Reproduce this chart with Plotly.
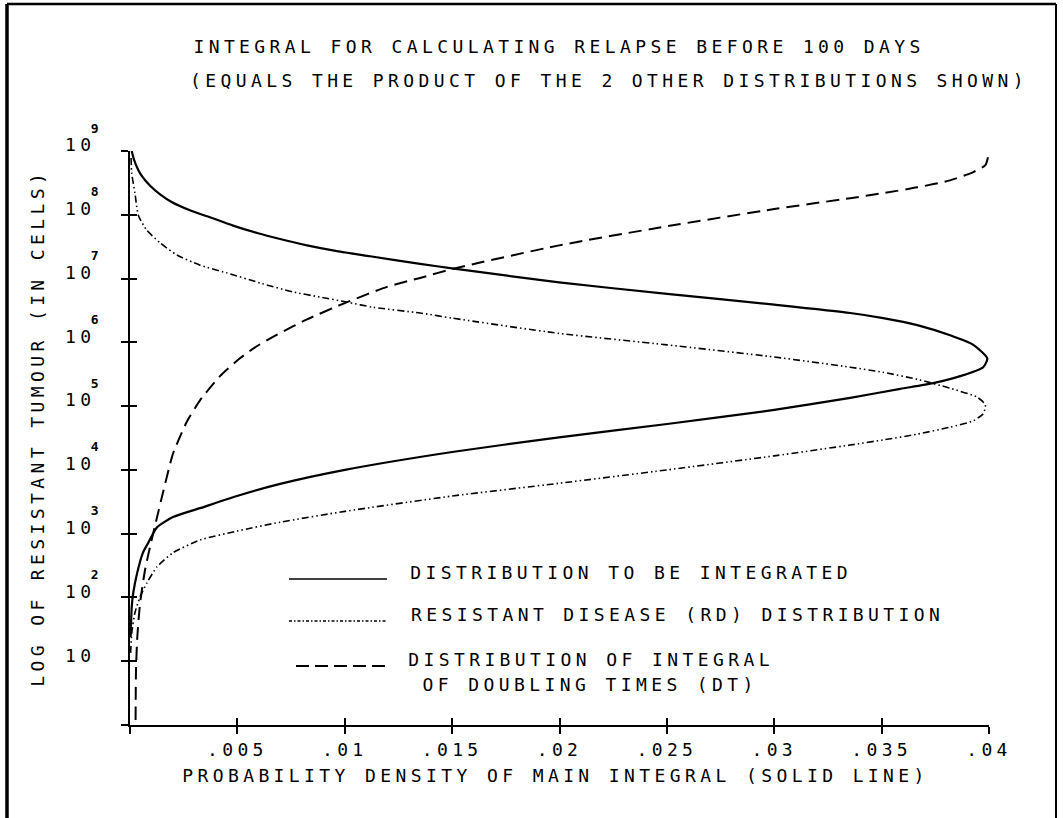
import plotly.graph_objects as go

# Distribution to be integrated (solid line): probability density vs log10 cells
dist_x = [0.00008, 0.00019, 0.00047, 0.00101, 0.00140, 0.00194, 0.00279, 0.00373, 0.00480,
          0.00596, 0.00699, 0.00824, 0.00964, 0.01118, 0.01351, 0.01500, 0.01998, 0.02501,
          0.03000, 0.03354, 0.03507, 0.03666, 0.03819, 0.03927, 0.03992, 0.03973, 0.03866,
          0.03740, 0.03587, 0.03354, 0.03000, 0.02501, 0.01998, 0.01500, 0.01001, 0.00699,
          0.00498, 0.00326, 0.00200, 0.00126, 0.00084, 0.00060, 0.00033, 0.00015, 0.00008,
          0.00003]
dist_logn = [9.00, 8.86, 8.65, 8.43, 8.32, 8.20, 8.07, 7.96, 7.83, 7.71, 7.62, 7.52, 7.43, 7.35,
             7.23, 7.16, 6.94, 6.76, 6.59, 6.46, 6.38, 6.27, 6.11, 5.96, 5.75, 5.61, 5.47, 5.36,
             5.27, 5.13, 4.94, 4.72, 4.51, 4.28, 4.00, 3.78, 3.59, 3.40, 3.26, 3.10, 2.85, 2.70,
             2.38, 2.07, 1.85, 1.38]

# Resistant disease (RD) distribution
rd_x = [0.00005, 0.00008, 0.00023, 0.00039, 0.00078, 0.00140, 0.00218, 0.00326, 0.00450,
        0.00606, 0.00759, 0.00885, 0.01011, 0.01132, 0.01351, 0.01500, 0.01998, 0.02501,
        0.03000, 0.03354, 0.03507, 0.03666, 0.03819, 0.03945, 0.03983, 0.03973, 0.03927,
        0.03819, 0.03666, 0.03507, 0.03354, 0.03000, 0.02501, 0.01998, 0.01500, 0.01001,
        0.00699, 0.00498, 0.00326, 0.00200, 0.00126, 0.00079, 0.00047, 0.00023, 0.00008,
        0.00003]
rd_logn = [8.89, 8.65, 8.34, 7.99, 7.76, 7.56, 7.37, 7.21, 7.09, 6.93, 6.79, 6.71, 6.63, 6.55,
           6.46, 6.38, 6.14, 5.96, 5.77, 5.61, 5.53, 5.42, 5.28, 5.14, 5.02, 4.88, 4.77, 4.67,
           4.56, 4.47, 4.39, 4.22, 4.00, 3.79, 3.59, 3.35, 3.18, 3.04, 2.90, 2.70, 2.48, 2.23,
           2.01, 1.76, 1.44, 1.13]

# Distribution of integral of doubling times (DT)
dt_x = [0.00026, 0.00028, 0.00034, 0.00047, 0.00070, 0.00093, 0.00124, 0.00154, 0.00200,
        0.00264, 0.00326, 0.00419, 0.00512, 0.00596, 0.00685, 0.00824, 0.01011, 0.01197,
        0.01351, 0.01500, 0.01998, 0.02501, 0.03000, 0.03354, 0.03507, 0.03666, 0.03819,
        0.03927, 0.03983, 0.03997]
dt_logn = [0.08, 0.86, 1.38, 1.91, 2.43, 2.79, 3.23, 3.65, 4.25, 4.75, 5.09, 5.47, 5.75, 5.95,
           6.12, 6.36, 6.63, 6.87, 7.01, 7.15, 7.52, 7.82, 8.09, 8.26, 8.34, 8.43, 8.54, 8.67,
           8.78, 8.93]

x_tickvals = [0, 0.005, 0.01, 0.015, 0.02, 0.025, 0.03, 0.035, 0.04]
x_ticktext = ["", ".005", ".01", ".015", ".02", ".025", ".03", ".035", ".04"]
y_tickvals = [0, 1, 2, 3, 4, 5, 6, 7, 8, 9]
y_ticktext = ["", "10", "10", "10", "10", "10", "10", "10", "10", "10"]
y_exponents = ["", "", "2", "3", "4", "5", "6", "7", "8", "9"]

legend_labels = ["DISTRIBUTION TO BE INTEGRATED",
                 "RESISTANT DISEASE (RD) DISTRIBUTION",
                 "DISTRIBUTION OF INTEGRAL",
                 "OF DOUBLING TIMES (DT)"]

FONT = "DejaVu Sans Mono"
W, H = 1063, 818
L, R, T, B = 130, 74, 151, 93
RD_DASH = "7px,3px,1.5px,3px,1.5px,3px"
DT_DASH = "13px,7px"
SPACING = 4.4          # extra px between characters (plotter lettering)


def px_x(p):
    return (p - L) / (W - L - R)


def px_y(p):
    return (H - B - p) / (H - T - B)


def spaced_center(p):
    # centred text gains trailing letter spacing; nudge so the glyphs stay centred
    return px_x(p + SPACING / 2)


fig = go.Figure()
fig.add_trace(go.Scatter(x=dist_x, y=dist_logn, mode="lines",
                         line=dict(color="black", width=2.2, shape="spline", smoothing=0.6),
                         showlegend=False))
fig.add_trace(go.Scatter(x=rd_x, y=rd_logn, mode="lines",
                         line=dict(color="black", width=1.6, dash=RD_DASH, shape="spline", smoothing=0.6),
                         showlegend=False))
fig.add_trace(go.Scatter(x=dt_x, y=dt_logn, mode="lines",
                         line=dict(color="black", width=2, dash=DT_DASH, shape="spline", smoothing=0.6),
                         showlegend=False))
# companion axes carry the inner half of the crossing tick marks
fig.add_trace(go.Scatter(x=[None], y=[None], xaxis="x2", yaxis="y2", showlegend=False, hoverinfo="skip"))

tickfont = dict(family=FONT, size=18, color="black")
fig.update_layout(
    width=W, height=H, autosize=False,
    margin=dict(l=L, r=R, t=T, b=B, pad=0),
    paper_bgcolor="white", plot_bgcolor="white",
    font=dict(family=FONT, size=18, color="black"),
    showlegend=False,
    xaxis=dict(range=[0, 0.04], showgrid=False, zeroline=False, showline=True,
               linecolor="black", linewidth=2, ticks="outside", ticklen=7, tickwidth=2,
               tickcolor="black", tickvals=x_tickvals, ticktext=x_ticktext,
               tickfont=tickfont, ticklabelstandoff=0),
    yaxis=dict(range=[0, 9], showgrid=False, zeroline=False, showline=True,
               linecolor="black", linewidth=2, ticks="outside", ticklen=7, tickwidth=2,
               tickcolor="black", tickvals=y_tickvals, ticktext=y_ticktext,
               tickfont=tickfont, ticklabelstandoff=22, ticklabelshift=-6),
    xaxis2=dict(range=[0, 0.04], overlaying="x", anchor="y2", side="bottom", showgrid=False,
                zeroline=False, showline=False, ticks="inside", ticklen=7, tickwidth=2,
                tickcolor="black", tickvals=x_tickvals, showticklabels=False),
    yaxis2=dict(range=[0, 9], overlaying="y", anchor="x2", side="left", showgrid=False,
                zeroline=False, showline=False, ticks="inside", ticklen=7, tickwidth=2,
                tickcolor="black", tickvals=y_tickvals, showticklabels=False),
)

ann = [
    dict(text="INTEGRAL FOR CALCULATING RELAPSE BEFORE 100 DAYS", x=spaced_center(557), y=px_y(47)),
    dict(text="(EQUALS THE PRODUCT OF THE 2 OTHER DISTRIBUTIONS SHOWN)", x=spaced_center(607), y=px_y(80)),
    dict(text="PROBABILITY DENSITY OF MAIN INTEGRAL (SOLID LINE)", x=spaced_center(553), y=px_y(775)),
    dict(text="LOG OF RESISTANT TUMOUR (IN CELLS)", x=px_x(37), y=px_y(428), textangle=-90),
    dict(text=legend_labels[0], x=spaced_center(629), y=px_y(572)),
    dict(text=legend_labels[1], x=spaced_center(675), y=px_y(614)),
    dict(text=legend_labels[2], x=spaced_center(589), y=px_y(659)),
    dict(text=legend_labels[3], x=spaced_center(588), y=px_y(684)),
]
for a in ann:
    a.update(xref="paper", yref="paper", showarrow=False, xanchor="center", yanchor="middle",
             font=dict(family=FONT, size=18, color="black"))

# powers of ten written as small raised digits beside each "10"
for val, exp in zip(y_tickvals, y_exponents):
    if exp:
        ann.append(dict(text=exp, xref="paper", yref="y", x=spaced_center(95), y=val,
                        yshift=23, showarrow=False, xanchor="center", yanchor="middle",
                        font=dict(family=FONT, size=13, color="black", weight="bold")))
fig.update_layout(annotations=ann)

# legend keys and page frame
shapes = [
    dict(type="line", x0=px_x(289), x1=px_x(387), y0=px_y(579), y1=px_y(579),
         line=dict(color="black", width=1.6)),
    dict(type="line", x0=px_x(289), x1=px_x(387), y0=px_y(621), y1=px_y(621),
         line=dict(color="black", width=1.4, dash="3px,2px,1.5px,2px")),
    dict(type="line", x0=px_x(296), x1=px_x(387), y0=px_y(666), y1=px_y(666),
         line=dict(color="black", width=2, dash="13px,6px")),
    dict(type="line", x0=px_x(7), x1=px_x(7), y0=px_y(4), y1=px_y(818),
         line=dict(color="black", width=3.5)),
    dict(type="line", x0=px_x(7), x1=px_x(1056), y0=px_y(4), y1=px_y(4),
         line=dict(color="black", width=2.5)),
    dict(type="line", x0=px_x(1056), x1=px_x(1056), y0=px_y(4), y1=px_y(818),
         line=dict(color="black", width=2)),
]
for s in shapes:
    s.update(xref="paper", yref="paper", layer="above")
fig.update_layout(shapes=shapes)

# plotter-style wide character spacing
spacing_js = """
var gd = document.getElementById('{plot_id}');
gd.querySelectorAll('text').forEach(function (t) { t.style.letterSpacing = '%spx'; });
""" % SPACING

fig.write_html("out.html", post_script=spacing_js)
